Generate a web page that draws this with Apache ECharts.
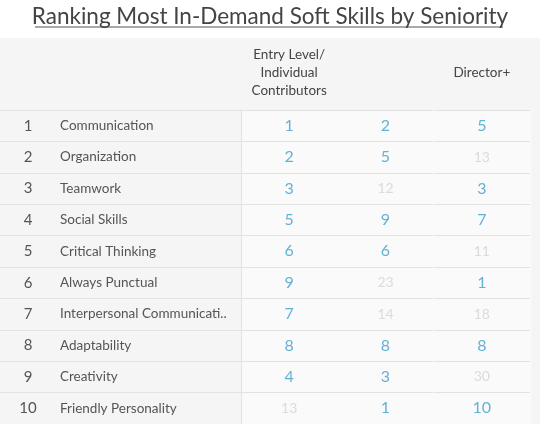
<!DOCTYPE html>
<html><head><meta charset="utf-8">
<script src="https://cdn.jsdelivr.net/npm/echarts@6/dist/echarts.min.js"></script>
<style>html,body{margin:0;padding:0;background:#fff}#c{width:540px;height:424px}</style>
</head><body><div id="c"></div>
<script>
const columns = ['Entry Level/\nIndividual\nContributors', 'Manager/Sr.\nManager', 'Director+'];
const skills = ['Communication','Organization','Teamwork','Social Skills','Critical Thinking','Always Punctual','Interpersonal Communicati..','Adaptability','Creativity','Friendly Personality'];
const entryLevel = [1,2,3,5,6,9,7,8,4,13];
const manager = [2,5,12,9,6,23,14,8,3,1];
const director = [5,13,3,7,11,1,18,8,30,10];

const series = [entryLevel, manager, director];
const data = [];
series.forEach((arr, ci) => arr.forEach((v, ri) => data.push({
  value: [ci, ri, v],
  label: { color: v <= 10 ? '#3d9fcb' : '#d3d3d3', fontSize: v <= 10 ? 16 : 14 }
})));

const chart = echarts.init(document.getElementById('c'));
chart.setOption({
  animation: false,
  backgroundColor: '#fff',
  title: { text: 'Ranking Most In-Demand Soft Skills by Seniority', left: 'center', top: 0,
    textStyle: { fontFamily: 'Lato', fontSize: 22.5, fontWeight: 'normal', color: '#444' } },
  graphic: [
    { type: 'rect', z: -10, shape: { x: 0, y: 38, width: 540, height: 386 }, style: { fill: '#f5f5f5' } },
    { type: 'rect', z: -9, shape: { x: 241, y: 110, width: 290, height: 314 }, style: { fill: '#fafafa' } },
    { type: 'line', shape: { x1: 35, y1: 27, x2: 503, y2: 27 }, style: { stroke: '#555', lineWidth: 1.2 } }
  ],
  grid: { left: 241, right: 10, top: 110, bottom: 0 },
  xAxis: { type: 'category', position: 'top', data: columns,
    axisLine: { show: false }, axisTick: { show: false },
    splitLine: { show: true, lineStyle: { color: '#fafafa' } },
    axisLabel: { color: '#444', fontFamily: 'Lato', fontSize: 13.5, lineHeight: 18, verticalAlign: 'middle', margin: 37 } },
  yAxis: { type: 'category', inverse: true, data: skills,
    axisLine: { show: true, lineStyle: { color: '#e2e2e2' } },
    axisTick: { show: true, length: 241, lineStyle: { color: '#e2e2e2' } },
    splitLine: { show: true, lineStyle: { color: '#e2e2e2' } },
    axisLabel: { align: 'left', margin: 241,
      formatter: (v, i) => '{r|' + (i + 1) + '}{s|' + v + '}',
      rich: { r: { width: 56, align: 'center', fontSize: 15, color: '#555', fontFamily: 'Lato' },
              s: { fontSize: 13.5, color: '#555', fontFamily: 'Lato', padding: [0, 0, 0, 4] } } } },
  series: [{ type: 'scatter', data: data, symbolSize: 1, itemStyle: { color: 'rgba(0,0,0,0)' },
    label: { show: true, position: 'inside', fontFamily: 'Lato', fontSize: 16,
      formatter: p => String(p.value[2]) } }]
});
</script></body></html>
